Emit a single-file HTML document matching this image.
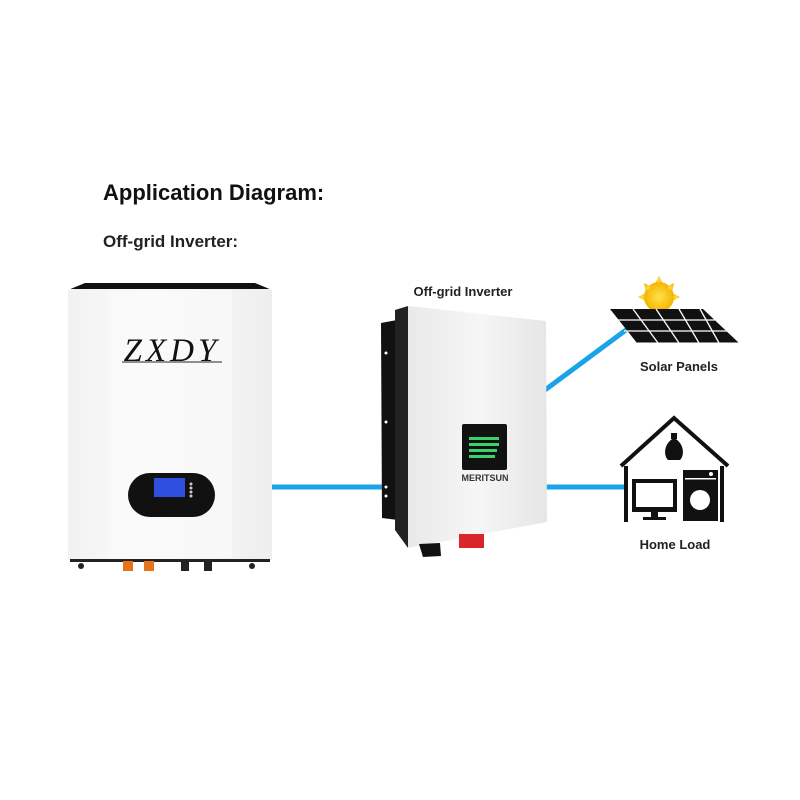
<!DOCTYPE html>
<html><head><meta charset="utf-8"><style>html,body{margin:0;padding:0;background:#fff}svg{display:block}</style></head>
<body>
<svg width="800" height="800" viewBox="0 0 800 800" xmlns="http://www.w3.org/2000/svg" font-family="Liberation Sans, Arial, sans-serif">
<defs>
<linearGradient id="bat" x1="0" x2="1"><stop offset="0" stop-color="#f2f2f2"/><stop offset="0.4" stop-color="#fbfbfb"/><stop offset="1" stop-color="#eeeeee"/></linearGradient>
<linearGradient id="inv" x1="0" x2="1"><stop offset="0" stop-color="#e9e9e9"/><stop offset="0.5" stop-color="#f6f6f6"/><stop offset="1" stop-color="#e6e6e6"/></linearGradient>
<radialGradient id="sun"><stop offset="0" stop-color="#ffe24a"/><stop offset="1" stop-color="#f4b400"/></radialGradient>
</defs>
<text x="103" y="200" font-size="22" font-weight="bold" fill="#111">Application Diagram:</text>
<text x="103" y="247" font-size="17" font-weight="bold" fill="#222">Off-grid Inverter:</text>

<!-- battery -->
<polygon points="85,283 255,283 272,290 68,290" fill="#111"/>
<rect x="68" y="289" width="204" height="271" fill="url(#bat)"/>
<rect x="108" y="290" width="124" height="268" fill="#fafafa" opacity="0.7"/>
<text x="172" y="361" font-family="Liberation Serif, serif" font-style="italic" font-size="33" text-anchor="middle" fill="#111" letter-spacing="4">ZXDY</text>
<line x1="122" y1="362" x2="222" y2="362" stroke="#222" stroke-width="1"/>
<rect x="128" y="473" width="87" height="44" rx="22" fill="#111"/>
<rect x="154" y="478" width="31" height="19" fill="#2f4fe0"/>
<circle cx="191" cy="484" r="1.5" fill="#ccc"/><circle cx="191" cy="488" r="1.5" fill="#ccc"/><circle cx="191" cy="492" r="1.5" fill="#ccc"/><circle cx="191" cy="496" r="1.5" fill="#ccc"/>
<rect x="70" y="559" width="200" height="3" fill="#222"/>
<circle cx="81" cy="566" r="3" fill="#222"/><circle cx="252" cy="566" r="3" fill="#222"/>
<rect x="123" y="561" width="10" height="10" fill="#e8741a"/><rect x="144" y="561" width="10" height="10" fill="#e8741a"/>
<rect x="181" y="561" width="8" height="10" fill="#222"/><rect x="204" y="561" width="8" height="10" fill="#222"/>

<!-- connectors -->
<g stroke="#1aa3e8" stroke-width="5" fill="none">
<line x1="272" y1="487" x2="392" y2="487"/>
<line x1="545" y1="390" x2="630" y2="327"/>
<line x1="545" y1="487" x2="624" y2="487"/>
</g>

<!-- inverter -->
<text x="463" y="296" font-size="13" font-weight="bold" text-anchor="middle" fill="#222">Off-grid Inverter</text>
<polygon points="381,323 397,320 398,520 382,518" fill="#111"/>
<polygon points="395,310 408,306 408,548 395,530" fill="#222"/>
<polygon points="408,306 546,321 547,522 408,548" fill="url(#inv)"/>
<circle cx="386" cy="353" r="1.5" fill="#fff"/><circle cx="386" cy="422" r="1.5" fill="#fff"/><circle cx="386" cy="487" r="1.5" fill="#fff"/><circle cx="386" cy="496" r="1.5" fill="#fff"/>
<rect x="462" y="424" width="45" height="46" rx="2" fill="#111"/>
<g fill="#3ad06a"><rect x="469" y="437" width="30" height="3"/><rect x="469" y="443" width="30" height="3"/><rect x="469" y="449" width="28" height="3"/><rect x="469" y="455" width="26" height="3"/></g>
<text x="485" y="481" font-size="9" font-weight="bold" text-anchor="middle" fill="#333">MERITSUN</text>
<polygon points="419,544 440,543 441,556 423,557" fill="#111"/>
<rect x="459" y="534" width="25" height="14" fill="#d9262b"/>

<!-- solar -->
<g fill="url(#sun)"><circle cx="659" cy="297" r="15"/>
<polygon points="659,276 663,284 655,284"/><polygon points="644,283 652,287 646,292"/><polygon points="674,283 672,292 666,287"/><polygon points="638,297 646,293 646,301"/><polygon points="680,297 672,301 672,293"/></g>
<polygon points="610,309 703,309 739,343 637,343" fill="#111"/>
<g stroke="#fff" stroke-width="1.3">
<line x1="617" y1="320" x2="715" y2="320"/><line x1="624" y1="331" x2="727" y2="331"/>
<line x1="633" y1="309" x2="658" y2="343"/><line x1="656" y1="309" x2="679" y2="343"/><line x1="679" y1="309" x2="699" y2="343"/><line x1="700" y1="309" x2="719" y2="343"/>
</g>
<line x1="637" y1="343" x2="739" y2="343" stroke="#fff" stroke-width="1"/>
<text x="679" y="371" font-size="13" font-weight="bold" text-anchor="middle" fill="#222">Solar Panels</text>

<!-- house -->
<polyline points="621,466 674,418 728,466" fill="none" stroke="#111" stroke-width="4"/>
<line x1="626" y1="466" x2="626" y2="522" stroke="#111" stroke-width="4"/>
<line x1="722" y1="466" x2="722" y2="522" stroke="#111" stroke-width="4"/>
<rect x="671" y="433" width="6" height="6" fill="#111"/>
<path d="M674,438 C664,443 663,455 668,460 L680,460 C685,455 684,443 674,438Z" fill="#111"/>
<rect x="632" y="479" width="45" height="33" fill="#111"/><rect x="636" y="483" width="37" height="24" fill="#fff"/>
<rect x="651" y="512" width="7" height="5" fill="#111"/><rect x="643" y="517" width="23" height="3" fill="#111"/>
<rect x="683" y="470" width="35" height="51" fill="#111"/>
<rect x="685" y="478" width="31" height="1.5" fill="#fff"/>
<circle cx="700" cy="500" r="10" fill="#fff"/><circle cx="711" cy="474" r="2" fill="#fff"/>
<text x="675" y="549" font-size="13" font-weight="bold" text-anchor="middle" fill="#222">Home Load</text>
</svg>
</body></html>
